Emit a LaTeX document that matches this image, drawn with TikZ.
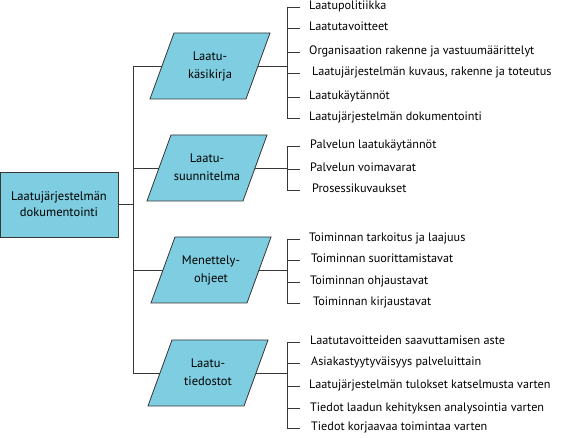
\documentclass[tikz,border=0pt]{standalone}
\usepackage{fontspec}
\setmainfont{PT Sans}
\usetikzlibrary{positioning,shapes.geometric}
\definecolor{docblue}{RGB}{127,205,225}
\definecolor{docline}{RGB}{55,55,55}

\begin{document}
\begin{tikzpicture}[x=1pt,y=-1pt,
  rootbox/.style={draw=docline,fill=docblue,line width=0.8pt,minimum width=118pt,
    minimum height=65pt,align=center,font=\fontsize{12.5}{16}\selectfont},
  docbox/.style={trapezium,trapezium left angle=70,trapezium right angle=110,
    draw=docline,fill=docblue,line width=0.8pt,text width=72pt,text height=10pt,
    text depth=21pt,inner xsep=0pt,inner ysep=17.5pt,align=center,
    font=\fontsize{12.5}{18}\selectfont},
  item/.style={anchor=west,inner xsep=9pt,inner ysep=0pt,text height=9pt,
    text depth=3pt,font=\fontsize{12.2}{14}\selectfont},
  link/.style={docline,line width=0.8pt}]
  \useasboundingbox (0,0) rectangle (576,438);

  % root and trunk
  \node[rootbox] (root) at (59,204.5) {Laatujärjestelmän\\dokumentointi};
  \coordinate (trunk) at (133,0);

  % document types
  \node[docbox] (kasikirja) at (210,66) {Laatu-\\käsikirja};
  \node[docbox] (suunnitelma) at (207,168) {Laatu-\\suunnitelma};
  \node[docbox] (ohjeet) at (211,270) {Menettely-\\ohjeet};
  \node[docbox] (tiedostot) at (208,373) {Laatu-\\tiedostot};

  \draw[link] (root.east) -- (trunk |- root.east);
  \draw[link] (trunk |- kasikirja.west) -- (trunk |- tiedostot.west);
  \foreach \doc in {kasikirja,suunnitelma,ohjeet,tiedostot}
    \draw[link] (trunk |- \doc.west) -- (\doc.west);

  % contents, one bus per document type
  \coordinate (bus) at (287,0);
  \foreach \y/\dx/\txt [count=\i] in {
    7/0/Laatupolitiikka,
    28/0/Laatutavoitteet,
    52/0/Organisaation rakenne ja vastuumäärittelyt,
    73/3/{Laatujärjestelmän kuvaus, rakenne ja toteutus},
    97/0/Laatukäytännöt,
    118/0/Laatujärjestelmän dokumentointi}{
    \node[item] (ka\i) at (300,\y) {\hspace*{\dx pt}\txt};
    \draw[link] (bus |- ka\i.west) -- (ka\i.west);
  }
  \draw[link] (bus |- ka1.west) -- (bus |- ka6.west);
  \draw[link] (kasikirja.east) -- (bus |- kasikirja.east);

  \foreach \y/\dx/\txt [count=\i] in {
    146/1/Palvelun laatukäytännöt,
    169/1/Palvelun voimavarat,
    190/3/Prosessikuvaukset}{
    \node[item] (su\i) at (300,\y) {\hspace*{\dx pt}\txt};
    \draw[link] (bus |- su\i.west) -- (su\i.west);
  }
  \draw[link] (bus |- su1.west) -- (bus |- su3.west);
  \draw[link] (suunnitelma.east) -- (bus |- suunnitelma.east);

  \foreach \y/\dx/\txt [count=\i] in {
    239/0/Toiminnan tarkoitus ja laajuus,
    260/2/Toiminnan suorittamistavat,
    282/1/Toiminnan ohjaustavat,
    303/4/Toiminnan kirjaustavat}{
    \node[item] (oh\i) at (300,\y) {\hspace*{\dx pt}\txt};
    \draw[link] (bus |- oh\i.west) -- (oh\i.west);
  }
  \draw[link] (bus |- oh1.west) -- (bus |- oh4.west);
  \draw[link] (ohjeet.east) -- (bus |- ohjeet.east);

  \foreach \y/\dx/\txt [count=\i] in {
    342/1/Laatutavoitteiden saavuttamisen aste,
    363/2/Asiakastyytyväisyys palveluittain,
    386/0/Laatujärjestelmän tulokset katselmusta varten,
    408/1/Tiedot laadun kehityksen analysointia varten,
    428/2/Tiedot korjaavaa toimintaa varten}{
    \node[item] (ti\i) at (300,\y) {\hspace*{\dx pt}\txt};
    \draw[link] (bus |- ti\i.west) -- (ti\i.west);
  }
  \draw[link] (bus |- ti1.west) -- (bus |- ti5.west);
  \draw[link] (tiedostot.east) -- (bus |- tiedostot.east);
\end{tikzpicture}
\end{document}
